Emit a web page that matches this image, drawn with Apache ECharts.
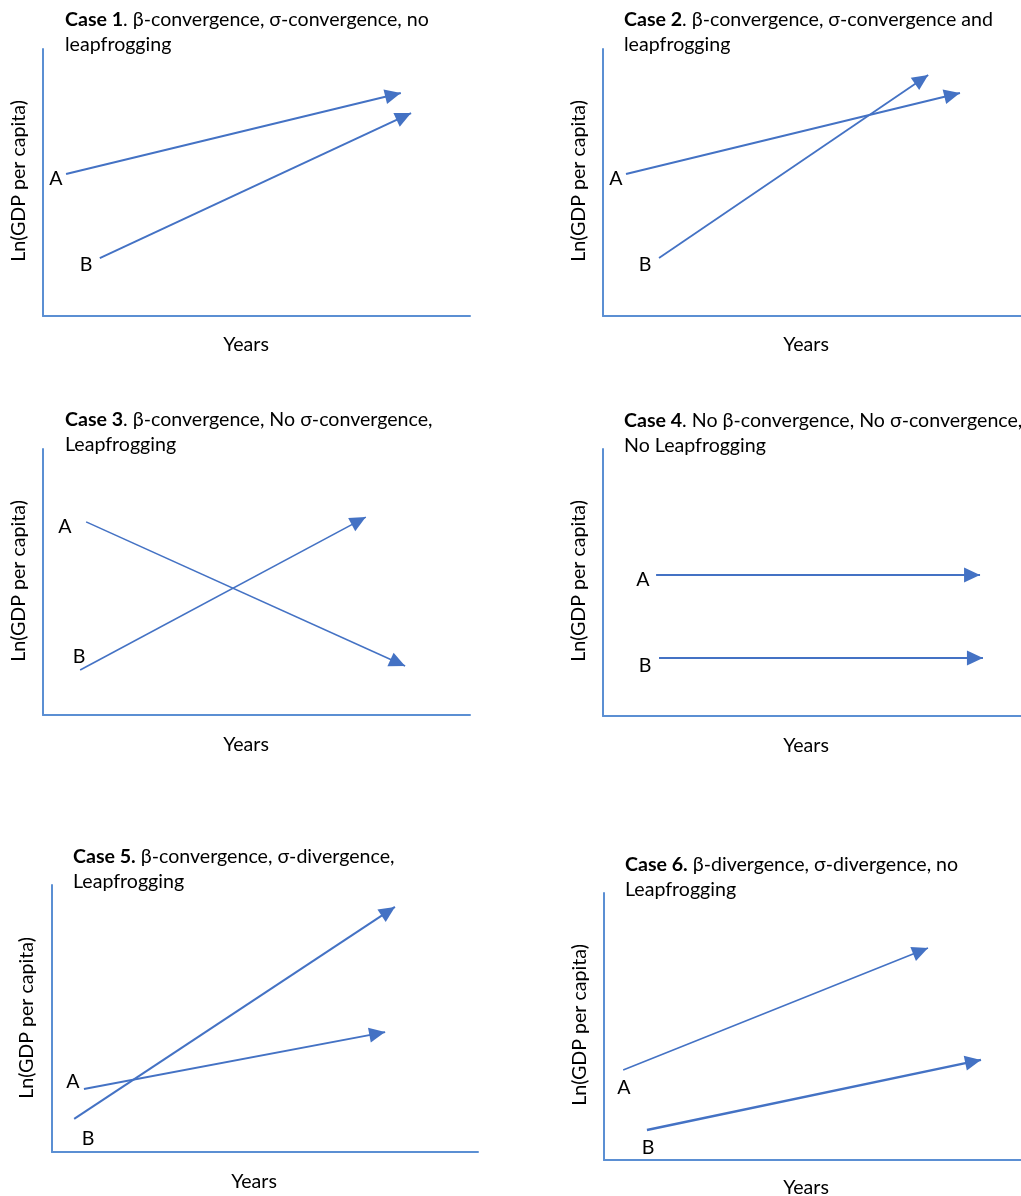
<!DOCTYPE html>
<html>
<head>
<meta charset="utf-8">
<script src="https://cdn.jsdelivr.net/npm/echarts@6/dist/echarts.min.js"></script>
<style>
html,body{margin:0;padding:0;background:#fff;}
#chart{width:1021px;height:1196px;}
</style>
</head>
<body>
<div id="chart"></div>
<script>
// ---------- data (0-100 scale on both axes of each panel) ----------
const caseNames = ['Case 1', 'Case 2', 'Case 3', 'Case 4', 'Case 5.', 'Case 6.'];
const caseSuffix = ['.', '.', '.', '.', '', ''];
const caseText = [
  ' β-convergence, σ-convergence, no\nleapfrogging',
  ' β-convergence, σ-convergence and\nleapfrogging',
  ' β-convergence, No σ-convergence,\nLeapfrogging',
  ' No β-convergence, No σ-convergence,\nNo Leapfrogging',
  ' β-convergence, σ-divergence,\nLeapfrogging',
  ' β-divergence, σ-divergence, no\nLeapfrogging'
];
const seriesNames = ['A', 'B'];
const aStart = [[5.4, 53.2], [5.5, 53.2], [10.1, 72.6], [12.7, 52.8], [7.5, 23.6], [4.6, 33.7]];
const aEnd   = [[83.8, 83.5], [85.4, 83.5], [84.8, 18.4], [90.2, 52.8], [78.2, 44.9], [77.7, 79.4]];
const bStart = [[13.3, 21.7], [13.4, 21.7], [8.7, 16.9], [13.4, 21.7], [5.2, 12.4], [10.3, 11.2]];
const bEnd   = [[86.2, 76.0], [77.8, 90.3], [75.6, 74.4], [90.9, 21.7], [80.5, 91.8], [90.4, 37.5]];
const yAxisTitle = 'Ln(GDP per capita)';
const xAxisTitle = 'Years';

// ---------- layout / style ----------
const FONT = 'Lato';
const FS = 19.6;
const ARROW = '#4472C4';
const AXIS = '#5B8FD3';
const grids = [
  {left: 43, top: 49, width: 427, height: 267},
  {left: 603, top: 49, width: 418, height: 267},
  {left: 43, top: 449, width: 427, height: 266},
  {left: 603, top: 449, width: 418, height: 267},
  {left: 52, top: 885, width: 426, height: 267},
  {left: 604, top: 893, width: 417, height: 267}
];
const titlePos = [[65, 7], [624, 7], [65, 407], [624, 408], [73, 844], [625, 852]];
const yNamePos = [[19, 181], [579, 181], [19, 581], [579, 581], [27, 1018], [580, 1025]];
const xNamePos = [[246, 345], [806, 345], [246, 745], [806, 746], [254, 1182], [806, 1188]];
const aLabelPos = [[56, 179], [616, 179], [65, 527], [643, 580], [73, 1082], [624, 1088]];
const bLabelPos = [[86, 265], [645, 265], [79, 657], [645, 666], [88, 1139], [648, 1148]];
const widthA = [2, 2, 1.6, 2, 2, 1.5];
const widthB = [2, 1.8, 1.6, 2, 2, 2.5];

const option = {
  animation: false,
  backgroundColor: '#fff',
  grid: grids.map(g => Object.assign({containLabel: false}, g)),
  xAxis: grids.map((g, i) => ({
    type: 'value', gridIndex: i, min: 0, max: 100,
    axisLine: {show: true, onZero: false, lineStyle: {color: AXIS, width: 2}},
    axisTick: {show: false}, axisLabel: {show: false}, splitLine: {show: false}
  })),
  yAxis: grids.map((g, i) => ({
    type: 'value', gridIndex: i, min: 0, max: 100,
    axisLine: {show: true, onZero: false, lineStyle: {color: AXIS, width: 2}},
    axisTick: {show: false}, axisLabel: {show: false}, splitLine: {show: false}
  })),
  title: caseNames.map((c, i) => ({
    left: titlePos[i][0], top: titlePos[i][1], padding: 0,
    text: '{b|' + c + '}' + caseSuffix[i] + caseText[i],
    textStyle: {
      fontFamily: FONT, fontSize: FS, fontWeight: 'normal', color: '#000', lineHeight: 25,
      rich: {b: {fontFamily: FONT, fontSize: FS, fontWeight: 'bold', color: '#000', lineHeight: 25}}
    }
  })),
  series: grids.map((g, i) => ({
    type: 'line', xAxisIndex: i, yAxisIndex: i, data: [], silent: true,
    markLine: {
      silent: true, animation: false,
      symbol: ['none', 'triangle'],
      symbolSize: [15, 16],
      symbolOffset: [[0, 0], [0, 8]],
      label: {show: false},
      emphasis: {disabled: true},
      data: [
        [{name: seriesNames[0], coord: aStart[i], lineStyle: {color: ARROW, width: widthA[i], type: 'solid'}},
         {coord: aEnd[i]}],
        [{name: seriesNames[1], coord: bStart[i], lineStyle: {color: ARROW, width: widthB[i], type: 'solid'}},
         {coord: bEnd[i]}]
      ]
    }
  })),
  graphic: [].concat(
    yNamePos.map(p => ({type: 'text', x: p[0], y: p[1], rotation: Math.PI / 2,
      style: {text: yAxisTitle, fontFamily: FONT, fontSize: FS, fill: '#000', align: 'center', verticalAlign: 'middle'}})),
    xNamePos.map(p => ({type: 'text', x: p[0], y: p[1],
      style: {text: xAxisTitle, fontFamily: FONT, fontSize: FS, fill: '#000', align: 'center', verticalAlign: 'middle'}})),
    aLabelPos.map(p => ({type: 'text', x: p[0], y: p[1],
      style: {text: seriesNames[0], fontFamily: FONT, fontSize: FS, fill: '#000', align: 'center', verticalAlign: 'middle'}})),
    bLabelPos.map(p => ({type: 'text', x: p[0], y: p[1],
      style: {text: seriesNames[1], fontFamily: FONT, fontSize: FS, fill: '#000', align: 'center', verticalAlign: 'middle'}}))
  )
};
const chart = echarts.init(document.getElementById('chart'), null, {renderer: 'canvas'});
chart.setOption(option);
</script>
</body>
</html>
